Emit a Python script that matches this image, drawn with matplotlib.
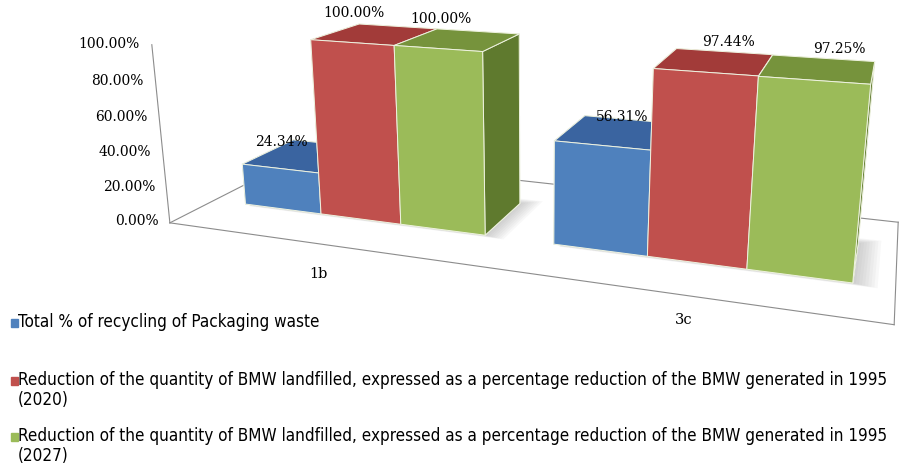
import matplotlib
matplotlib.use("Agg")
import matplotlib.pyplot as plt
from matplotlib.patches import Rectangle
from mpl_toolkits.mplot3d.art3d import Poly3DCollection

categories = ["1b", "3c"]
packaging = [24.34, 56.31]
bmw_2020 = [100.00, 97.44]
bmw_2027 = [100.00, 97.25]
series_names = [
    "Total % of recycling of Packaging waste",
    "Reduction of the quantity of BMW landfilled, expressed as a percentage reduction of the BMW generated in 1995\n(2020)",
    "Reduction of the quantity of BMW landfilled, expressed as a percentage reduction of the BMW generated in 1995\n(2027)",
]
z_ticks = [0, 20, 40, 60, 80, 100]

# front / top / side shades per series
front_cols = ["#4F81BD", "#C0504D", "#9BBB59"]
top_cols = ["#3A64A0", "#A23B39", "#76933C"]
side_cols = ["#2F5588", "#8E3331", "#5F7A2E"]

serif = ["DejaVu Serif"]

W, H = 912, 470
fig = plt.figure(figsize=(W / 100, H / 100), dpi=100)
# 3d axes are always square, so give it a square box wider than the figure height
side = W / H
cx, cy = 522 / W, 1 - 148 / H
ax = fig.add_axes([cx - 0.5, cy - side / 2, 1.0, side], projection="3d")
ax.set_proj_type("persp", focal_length=0.21)
ax.view_init(elev=15.7, azim=-70.6)
ax.computed_zorder = False

w = 0.265
y_front, depth = 0.3, 0.4
xs, ys, dx, dy, dz, cols = [], [], [], [], [], []
series = [packaging, bmw_2020, bmw_2027]
for c in range(len(categories)):
    for s, vals in enumerate(series):
        xs.append(c + (s - 1) * w - w / 2)
        ys.append(y_front)
        dx.append(w)
        dy.append(depth)
        dz.append(vals[c])
        # faces: -z, +z, -y, +y, -x, +x
        cols += [front_cols[s], top_cols[s], front_cols[s], front_cols[s],
                 side_cols[s], side_cols[s]]
zs = [0] * len(xs)
ax.bar3d(xs, ys, zs, dx, dy, dz, color=cols, shade=False,
         edgecolor="#EEF2E0", linewidth=0.7, zorder=3)

# soft drop shadow of each group on the floor, built from thin stacked layers
for c in range(len(categories)):
    gl, gr = c - 1.5 * w, c + 1.5 * w
    for k in range(8):
        grow = 0.06 * (1 - k / 8)
        quad = [(gl + 0.02, y_front - grow * 0.3, 0),
                (gr + grow, y_front - grow * 0.3, 0),
                (gr + grow, y_front + depth + grow, 0),
                (gl + 0.02, y_front + depth + grow, 0)]
        ax.add_collection3d(Poly3DCollection([quad], facecolor="#7F7F7F",
                                             edgecolor="none", alpha=0.05,
                                             zorder=1))

x0, x1 = -0.51, 1.5
ax.set_xlim(x0, x1)
ax.set_ylim(0, 1)
ax.set_zlim(0, 100)
ax.set_box_aspect((6.2, 2.2, 1.63), zoom=0.818)
ax.set_axis_off()

# floor outline and the vertical axis
lc = "#8C8C8C"
ax.plot([x0, x1], [0, 0], [0, 0], color=lc, lw=0.8, zorder=0)
ax.plot([x0, x1], [1, 1], [0, 0], color=lc, lw=0.8, zorder=0)
ax.plot([x0, x0], [0, 1], [0, 0], color=lc, lw=0.8, zorder=0)
ax.plot([x1, x1], [0, 1], [0, 0], color=lc, lw=0.8, zorder=0)
ax.plot([x0, x0], [0, 0], [0, 100], color=lc, lw=0.8, zorder=0)

for t in z_ticks:
    ax.text(x0 - 0.04, 0, t, f"{t:.2f}%", ha="right", va="center",
            fontsize=10, family=serif, zorder=5)

# small nudges so the labels sit where the chart puts them
cat_dx = [0.07, 0.03]
val_dx = [0.01, 0.055]
for c, name in enumerate(categories):
    ax.text(c + cat_dx[c], -0.2 + 0.06 * c, 0, name, ha="center", va="top",
            fontsize=10.5, family=serif, zorder=5)
    for s, vals in enumerate(series):
        ax.text(c + (s - 1) * w + val_dx[c], y_front, vals[c] + 12,
                f"{vals[c]:.2f}%", ha="center", va="bottom", fontsize=10,
                family=serif, zorder=5)

# legend in the lower left
ly = [323, 381, 437]
for s, name in enumerate(series_names):
    yf = 1 - ly[s] / H
    fig.patches.append(Rectangle((11 / W, yf - 4 / H), 7 / W, 8 / H,
                                 transform=fig.transFigure, color=front_cols[s]))
    fig.text(18 / W, yf + 10 / H, name, ha="left", va="top", fontsize=12.25,
             family="DejaVu Sans", fontstretch="condensed", linespacing=1.15)

fig.savefig("out.png", dpi=100)
